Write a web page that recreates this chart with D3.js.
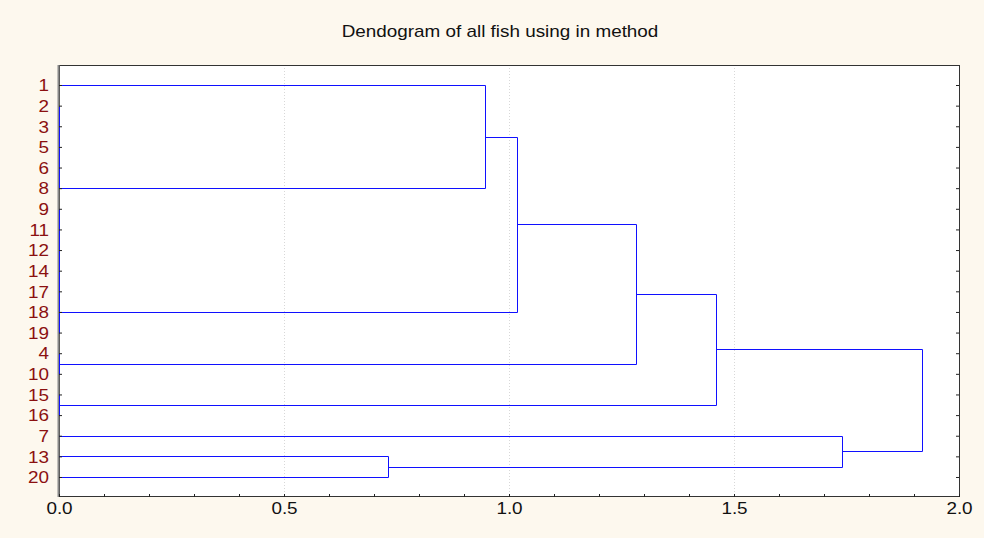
<!DOCTYPE html>
<html>
<meta charset="utf-8">
<head>
    <title>Dendogram of all fish</title>
</head>

<style>
    body { margin: 0; background-color: #fdf8ee; }
    text { font-family: "Liberation Sans", Arial, sans-serif; }
</style>

<script src="https://d3js.org/d3.v7.min.js"></script>

<body>
<div id="chart"></div>

<script>

// leaf order, top to bottom
var leaves = ["1","2","3","5","6","8","9","11","12","14","17","18","19","4","10","15","16","7","13","20"];

// groups joined at (almost) zero distance; "at" = leaf where the group line leaves
var zeroGroups = [
  {name: "g1", members: ["2","3","5","6","8"], at: "8"},
  {name: "g2", members: ["9","11","12","14","17","18","19"], at: "18"},
  {name: "g3", members: ["4","10"]},
  {name: "g4", members: ["15","16"]}
];

// amalgamation steps
var mergeName = ["c1",  "c2", "c3", "c4", "c5", "c6", "c7"];
var mergeA    = ["1",   "13", "c1", "c3", "c4", "7",  "c5"];
var mergeB    = ["g1",  "20", "g2", "g3", "g4", "c2", "c6"];
var mergeDist = [0.946, 0.730, 1.017, 1.282, 1.459, 1.739, 1.917];

var xTicks = [0, 0.5, 1.0, 1.5, 2.0];
var xMinor = d3.range(0, 21).map(function(i) { return i / 10; });

var title = "Dendogram of all fish using in method";

// set the dimensions and margins of the graph
var margin = {top: 65, right: 25, bottom: 41, left: 59},
  width = 984 - margin.left - margin.right,
  height = 538 - margin.top - margin.bottom;

var stretch = 1.18; // text in the original is horizontally wide

var root = d3.select("#chart")
  .append("svg")
  .attr("width", 984)
  .attr("height", 538)
  .style("display", "block");

root.append("rect")
  .attr("width", 984).attr("height", 538)
  .style("fill", "#fdf8ee");

root.append("text")
  .attr("transform", "translate(500,37) scale(1.18,1)")
  .style("text-anchor", "middle")
  .style("font-size", "16px")
  .style("fill", "#111")
  .text(title);

var svg = root.append("g")
  .attr("transform", "translate(" + margin.left + "," + margin.top + ")");

var x = d3.scaleLinear().domain([0, 2]).range([0, width]);
var y = d3.scalePoint().domain(leaves).range([0, height]).padding(0.97);

// plot background
svg.append("rect")
  .attr("width", width).attr("height", height)
  .style("fill", "white");

// dotted grid
svg.selectAll(".grid")
  .data(xTicks.slice(1, -1))
  .enter().append("line")
  .attr("x1", function(d) { return Math.round(x(d)) + 0.5; })
  .attr("x2", function(d) { return Math.round(x(d)) + 0.5; })
  .attr("y1", 0).attr("y2", height)
  .style("stroke", "#d8d8d8")
  .style("stroke-dasharray", "1,2");

// frame
svg.append("rect")
  .attr("x", 0.5).attr("y", 0.5)
  .attr("width", width).attr("height", height - 1)
  .style("fill", "none")
  .style("stroke", "#333")
  .style("stroke-width", 1);
svg.append("line")
  .attr("x1", -0.5).attr("x2", -0.5).attr("y1", 0).attr("y2", height)
  .style("stroke", "#888").style("stroke-width", 2);

// positions of every node
var pos = {};
leaves.forEach(function(l) { pos[l] = {y: y(l), h: 0}; });

var segs = [];
zeroGroups.forEach(function(g) {
  var ys = g.members.map(function(m) { return y(m); });
  var y0 = d3.min(ys), y1 = d3.max(ys);
  segs.push([[0, y0], [0, y1]]);
  pos[g.name] = {y: g.at ? y(g.at) : (y0 + y1) / 2, h: 0};
});

for (var i = 0; i < mergeName.length; i++) {
  var a = pos[mergeA[i]], b = pos[mergeB[i]], d = mergeDist[i];
  segs.push([[x(a.h), a.y], [x(d), a.y], [x(d), b.y], [x(b.h), b.y]]);
  pos[mergeName[i]] = {y: (a.y + b.y) / 2, h: d};
}

// snap to pixel centres so the 1px lines stay sharp
var line = d3.line()
  .x(function(p) { return Math.round(p[0]) + 0.5; })
  .y(function(p) { return Math.round(p[1]) + 0.5; });

svg.selectAll(".link")
  .data(segs)
  .enter().append("path")
  .attr("d", line)
  .style("fill", "none")
  .style("stroke", "#1010ff")
  .style("stroke-width", 1);

// left axis with leaf labels
var gl = svg.append("g")
  .call(d3.axisLeft(y).tickSizeInner(-3).tickSizeOuter(0).tickPadding(10));
gl.select(".domain").remove();
gl.selectAll("line").style("stroke", "#222");
gl.selectAll("text")
  .attr("x", -10 / stretch)
  .attr("dy", "0.36em")
  .attr("transform", "scale(" + stretch + ",1)")
  .style("font-size", "16px")
  .style("fill", "#8b1010");

// right axis ticks
var gr = svg.append("g")
  .attr("transform", "translate(" + width + ",0)")
  .call(d3.axisRight(y).tickSizeInner(-3).tickSizeOuter(0).tickFormat(""));
gr.select(".domain").remove();
gr.selectAll("line").style("stroke", "#222");

// bottom minor ticks
var gm = svg.append("g")
  .attr("transform", "translate(0," + height + ")")
  .call(d3.axisBottom(x).tickValues(xMinor).tickSizeInner(-3).tickSizeOuter(0).tickFormat(""));
gm.select(".domain").remove();
gm.selectAll("line").style("stroke", "#222");

// bottom labels
var gb = svg.append("g")
  .attr("transform", "translate(0," + height + ")")
  .call(d3.axisBottom(x).tickValues(xTicks).tickSizeInner(-3).tickSizeOuter(0)
    .tickPadding(6).tickFormat(d3.format(".1f")));
gb.select(".domain").remove();
gb.selectAll("line").style("stroke", "#222");
gb.selectAll("text")
  .attr("transform", "scale(" + stretch + ",1)")
  .style("font-size", "16px")
  .style("fill", "#111");

</script>
</body>
</html>
